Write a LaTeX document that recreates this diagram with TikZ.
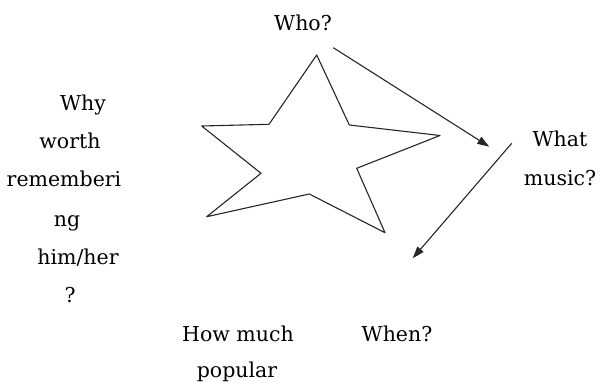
\documentclass[tikz,border=0pt]{standalone}
\usepackage{fontspec}
\setmainfont{DejaVu Serif}
\usetikzlibrary{arrows.meta}
\begin{document}
\begin{tikzpicture}[x=1pt,y=-1pt,
  lbl/.style={font=\fontsize{20.5}{24}\selectfont, inner sep=0pt, anchor=base},
  edge/.style={line width=1.1pt, draw=black!85},
  arr/.style={edge, -{Triangle[length=12pt,width=8pt]}}]
\useasboundingbox (0,0) rectangle (600,383);
% star
\draw[edge, line join=round] (316.7,55) -- (269,124.3) -- (201.7,126) -- (261,173.3) -- (206.7,216.7)
  -- (309.3,194) -- (385,232.7) -- (356.7,168.3) -- (440,135.5) -- (349.3,125) -- cycle;
% labels
\node[lbl] (who) at (303,30) {Who?};
\node[lbl] (why1) at (83,110) {Why};
\node[lbl] (why2) at (70,148) {worth};
\node[lbl] (why3) at (64,186) {rememberi};
\node[lbl] (why4) at (67,226) {ng};
\node[lbl] (why5) at (78,264) {him/her};
\node[lbl] (why6) at (70,302) {?};
\node[lbl] (what1) at (560,146) {What};
\node[lbl] (what2) at (560,185) {music?};
\node[lbl] (how1) at (238,341) {How much};
\node[lbl] (how2) at (237,377.5) {popular};
\node[lbl] (when) at (397,341) {When?};
% arrows
\coordinate (a1s) at (333.3,47.7);
\coordinate (a1e) at (489.3,146.7);
\coordinate (a2s) at (511.7,143.3);
\coordinate (a2e) at (412.7,258.3);
\draw[arr] (a1s) -- (a1e);
\draw[arr] (a2s) -- (a2e);
\end{tikzpicture}
\end{document}
